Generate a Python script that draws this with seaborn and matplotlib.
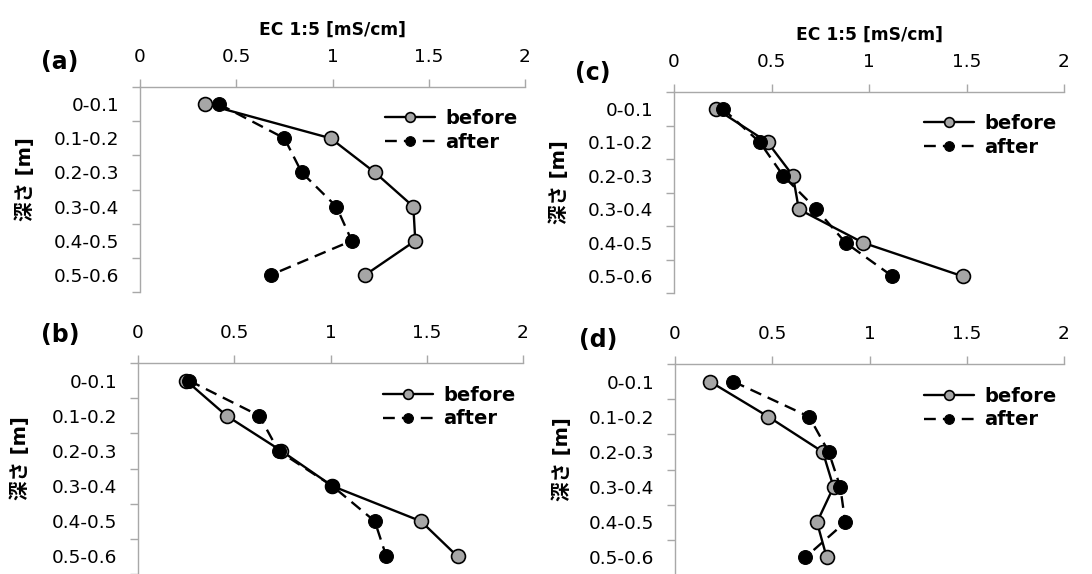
import matplotlib

matplotlib.use("Agg")
import matplotlib.pyplot as plt
import numpy as np
import pandas as pd
import seaborn as sns
from matplotlib.ticker import FixedLocator


depth_labels = ["0-0.1", "0.1-0.2", "0.2-0.3", "0.3-0.4", "0.4-0.5", "0.5-0.6"]
x_ticks = [0, 0.5, 1, 1.5, 2]
x_tick_labels = ["0", "0.5", "1", "1.5", "2"]

a_before = [0.34, 0.99, 1.22, 1.42, 1.43, 1.17]
a_after = [0.41, 0.75, 0.84, 1.02, 1.10, 0.68]
b_before = [0.25, 0.46, 0.745, 1.01, 1.47, 1.66]
b_after = [0.265, 0.63, 0.73, 1.01, 1.23, 1.29]
c_before = [0.215, 0.48, 0.61, 0.64, 0.97, 1.48]
c_after = [0.25, 0.44, 0.56, 0.73, 0.88, 1.12]
d_before = [0.18, 0.48, 0.76, 0.815, 0.73, 0.78]
d_after = [0.30, 0.69, 0.79, 0.85, 0.875, 0.67]

W, H = 1092, 574
GRAY_SPINE = "#a8a8a8"
FONT = ["DejaVu Sans", "Noto Sans CJK JP"]

sns.set_style("white")
plt.rcParams["font.family"] = FONT
plt.rcParams["text.color"] = "black"
plt.rcParams["axes.labelcolor"] = "black"
plt.rcParams["xtick.labelcolor"] = "black"
plt.rcParams["ytick.labelcolor"] = "black"


def px_rect(left, top, right, bottom):
    return [left / W, 1 - bottom / H, (right - left) / W, (bottom - top) / H]


def draw_panel(fig, rect, before, after, tag, show_xlabel, tag_xy, ylab_x):
    ax = fig.add_axes(rect)
    pos = np.arange(len(depth_labels))
    df = pd.DataFrame({"depth": pos, "before": before, "after": after})

    sns.lineplot(data=df, x="before", y="depth", sort=False, estimator=None,
                 color="black", linewidth=1.7, marker="o", markersize=10,
                 markerfacecolor="#a6a6a6", markeredgecolor="black",
                 markeredgewidth=1.2, label="before", ax=ax)
    sns.lineplot(data=df, x="after", y="depth", sort=False, estimator=None,
                 color="black", linewidth=1.7, linestyle=(0, (5, 3)), marker="o",
                 markersize=10, markerfacecolor="black", markeredgecolor="black",
                 label="after", ax=ax)

    ax.set_xlim(0, 2)
    ax.set_ylim(len(depth_labels) - 0.5, -0.5)
    ax.xaxis.tick_top()
    ax.set_xticks(x_ticks)
    ax.set_xticklabels(x_tick_labels)
    ax.set_yticks(pos)
    ax.set_yticklabels(depth_labels)
    ax.yaxis.set_minor_locator(FixedLocator(np.arange(-0.5, len(depth_labels), 1)))

    ax.tick_params(axis="x", which="major", direction="out", length=6, width=1,
                   color=GRAY_SPINE, labelcolor="black", labelsize=13.3, pad=9,
                   top=True, bottom=False)
    ax.tick_params(axis="y", which="major", length=0, labelsize=13.3, pad=15,
                   labelcolor="black")
    ax.tick_params(axis="y", which="minor", direction="out", length=6, width=1,
                   color=GRAY_SPINE, left=True)

    for side in ("right", "bottom"):
        ax.spines[side].set_visible(False)
    for side in ("left", "top"):
        ax.spines[side].set_color(GRAY_SPINE)
        ax.spines[side].set_linewidth(1)

    if show_xlabel:
        ax.xaxis.set_label_position("top")
        ax.set_xlabel("EC 1:5 [mS/cm]", fontsize=12.3, fontweight="bold", labelpad=10,
                      color="black")
    else:
        ax.set_xlabel("")
    ax.set_ylabel("深さ [m]", fontsize=14, fontweight="bold", color="black")
    ax.yaxis.set_label_coords(ylab_x, 0.55)

    leg = ax.legend(loc="upper right", bbox_to_anchor=(1.0, 0.93), frameon=False,
                    prop={"family": FONT, "size": 14, "weight": "bold"},
                    handlelength=2.6, handletextpad=0.5, labelspacing=0.25,
                    borderaxespad=0.0, labelcolor="black")
    for h in leg.legend_handles:
        h.set_markersize(7)

    fig.text(tag_xy[0] / W, 1 - tag_xy[1] / H, tag, fontsize=17, fontweight="bold",
             ha="center", va="center", color="black")
    return ax


fig = plt.figure(figsize=(W / 100, H / 100), dpi=100)

draw_panel(fig, px_rect(140, 87, 525, 292), a_before, a_after, "(a)", True, (60, 62), -0.273)
draw_panel(fig, px_rect(674, 92, 1064, 293), c_before, c_after, "(c)", True, (593, 73), -0.269)
draw_panel(fig, px_rect(138, 363, 523, 574), b_before, b_after, "(b)", False, (60, 335), -0.28)
draw_panel(fig, px_rect(675, 364, 1064, 575), d_before, d_after, "(d)", False, (598, 340), -0.265)

fig.savefig("out.png", dpi=100)
